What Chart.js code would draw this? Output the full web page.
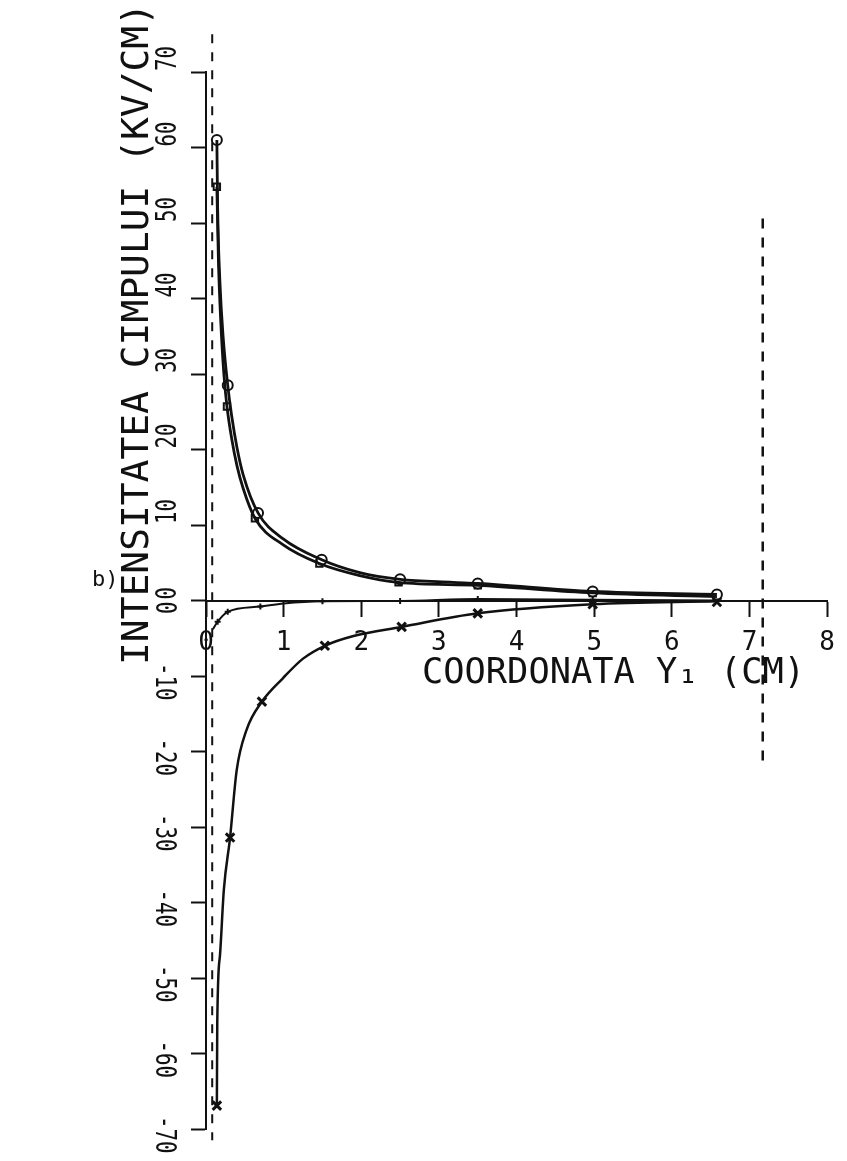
<!DOCTYPE html>
<html>
<head>
<meta charset="utf-8">
<script src="https://cdn.jsdelivr.net/npm/chart.js@4.4.1/dist/chart.umd.min.js"></script>
<style>
  html, body { margin: 0; padding: 0; background: #fff; }
  #wrap { width: 847px; height: 1161px; }
</style>
</head>
<body>
<div id="wrap"><canvas id="field"></canvas></div>
<script>
// ticks
const xTicks = [0, 1, 2, 3, 4, 5, 6, 7, 8];
const yTicks = [-70, -60, -50, -40, -30, -20, -10, 0, 10, 20, 30, 40, 50, 60, 70];

// upper curve (open circles): traced line, then the marked points
const circLineX = [0.14, 0.15, 0.18, 0.22, 0.28, 0.33, 0.40, 0.48, 0.67, 0.99, 1.49, 1.98, 2.5, 3.18, 3.5, 4.98, 6.58];
const circLineY = [61, 52, 42, 35, 28.5, 24.5, 20.2, 16.6, 11.6, 8.2, 5.4, 3.7, 2.8, 2.4, 2.25, 1.2, 0.8];
const circX = [0.14, 0.28, 0.67, 1.49, 2.5, 3.5, 4.98, 6.58];
const circY = [61, 28.5, 11.6, 5.4, 2.8, 2.25, 1.2, 0.8];

// upper curve (open squares)
const sqLineX = [0.14, 0.16, 0.19, 0.23, 0.27, 0.33, 0.40, 0.48, 0.63, 0.99, 1.46, 1.98, 2.48, 3.5, 4.98, 6.58];
const sqLineY = [54.8, 45, 37, 30, 25.7, 21.5, 17.8, 14.8, 10.9, 7.4, 4.9, 3.3, 2.4, 2.0, 1.0, 0.5];
const sqX = [0.14, 0.27, 0.63, 1.46, 2.48, 3.5, 4.98, 6.58];
const sqY = [54.8, 25.7, 10.9, 4.9, 2.4, 2.0, 1.0, 0.5];

// small curve just under zero (plus marks)
const plusLineX = [0.09, 0.15, 0.28, 0.7, 1.0, 1.5, 2.5, 3.5, 4.98, 6.58];
const plusLineY = [-3.8, -2.8, -1.5, -0.8, -0.4, -0.1, -0.05, 0.2, 0.1, 0.0];
const plusX = [0.15, 0.28, 0.7, 1.5, 2.5, 3.5, 4.98];
const plusY = [-2.8, -1.5, -0.8, -0.1, -0.05, 0.2, 0.1];

// lower curve (crosses)
const crossLineX = [0.14, 0.145, 0.18, 0.23, 0.31, 0.395, 0.52, 0.72, 0.99, 1.25, 1.53, 1.9, 2.52, 3.5, 4.98, 6.58];
const crossLineY = [-66.9, -56, -47, -38.3, -31.4, -22.5, -17.2, -13.4, -10.3, -7.7, -6.0, -4.7, -3.5, -1.7, -0.5, -0.1];
const crossX = [0.14, 0.31, 0.72, 1.53, 2.52, 3.5, 4.98, 6.58];
const crossY = [-66.9, -31.4, -13.4, -6.0, -3.5, -1.7, -0.5, -0.2];

// dashed guide lines
const guide1X = [0.08, 0.08];
const guide1Y = [75, -71.5];
const guide2X = [7.17, 7.17];
const guide2Y = [50.6, -21.3];

const ink = '#111';
const mono = '"DejaVu Sans Mono", "Liberation Mono", monospace';

function pts(xs, ys) {
    return xs.map((v, i) => ({ x: v, y: ys[i] }));
}

// draw text with a rotation and an optional squeeze along the text
function put(ctx, text, x, y, rot, size, sx, align) {
    ctx.save();
    ctx.translate(x, y);
    ctx.rotate(rot);
    ctx.scale(sx, 1);
    ctx.font = size + 'px ' + mono;
    ctx.textAlign = align;
    ctx.textBaseline = 'alphabetic';
    ctx.fillText(text, 0, size * 0.729 / 2);
    ctx.restore();
}

function putFit(ctx, text, x, y, rot, size, len) {
    ctx.save();
    ctx.font = size + 'px ' + mono;
    const w = ctx.measureText(text).width;
    ctx.restore();
    put(ctx, text, x, y, rot, size, len / w, 'left');
}

const axisText = {
    id: 'axisText',
    afterDraw(chart) {
        const { ctx, scales: { y } } = chart;
        ctx.save();
        ctx.fillStyle = ink;
        yTicks.forEach(v => {
            const py = y.getPixelForValue(v);
            if (v >= 0) put(ctx, String(v), 166, py - 1, -Math.PI / 2, 28, 0.74, 'left');
            if (v < 0) put(ctx, String(v), 166, py - 13, Math.PI / 2, 28, 0.74, 'left');
            if (v === 0) put(ctx, '0', 166, py + 1, Math.PI / 2, 28, 0.74, 'left');
        });
        putFit(ctx, 'INTENSITATEA CIMPULUI (KV/CM)', 134, 665, -Math.PI / 2, 38, 662);
        putFit(ctx, 'COORDONATA Y\u2081 (CM)', 422, 670, 0, 35, 383);
        put(ctx, 'b)', 92, 578, 0, 22, 1, 'left');
        ctx.restore();
    }
};

function curve(label, xs, ys, width) {
    return {
        label: label,
        data: pts(xs, ys),
        borderColor: ink,
        borderWidth: width,
        cubicInterpolationMode: 'monotone',
        pointRadius: 0,
        fill: false
    };
}

function marks(label, xs, ys, style, r, bw) {
    return {
        label: label,
        data: pts(xs, ys),
        showLine: false,
        pointStyle: style,
        pointRadius: r,
        pointBorderWidth: bw,
        pointBorderColor: ink,
        pointBackgroundColor: '#fff'
    };
}

new Chart(document.getElementById('field').getContext('2d'), {
    type: 'line',
    data: {
        datasets: [
            { label: 'guide1', data: pts(guide1X, guide1Y), borderColor: ink, borderWidth: 2, borderDash: [9, 9], pointRadius: 0, clip: false },
            { label: 'guide2', data: pts(guide2X, guide2Y), borderColor: ink, borderWidth: 2.5, borderDash: [10, 9], pointRadius: 0, clip: false },
            curve('circles line', circLineX, circLineY, 2.8),
            curve('squares line', sqLineX, sqLineY, 2.8),
            curve('plus line', plusLineX, plusLineY, 2),
            curve('cross line', crossLineX, crossLineY, 2.5),
            marks('circles', circX, circY, 'circle', 5, 2),
            marks('squares', sqX, sqY, 'rect', 4.5, 2),
            marks('plus', plusX, plusY, 'cross', 3, 2),
            marks('cross', crossX, crossY, 'crossRot', 6, 3)
        ]
    },
    options: {
        responsive: true,
        maintainAspectRatio: false,
        animation: false,
        layout: { padding: { left: 206, right: 19, top: 72, bottom: 32 } },
        plugins: {
            legend: { display: false },
            tooltip: { enabled: false }
        },
        scales: {
            x: {
                type: 'linear',
                position: { y: 0 },
                min: 0,
                max: 8,
                afterBuildTicks: s => { s.ticks = xTicks.map(v => ({ value: v })); },
                grid: { drawOnChartArea: false, tickLength: 15, tickWidth: 2, color: ink },
                border: { color: ink, width: 2 },
                ticks: { color: ink, font: { family: mono, size: 26 }, padding: 12, maxRotation: 0 },
                title: { display: false }
            },
            y: {
                type: 'linear',
                position: 'left',
                min: -70,
                max: 70,
                afterBuildTicks: s => { s.ticks = yTicks.map(v => ({ value: v })); },
                afterFit: s => { s.width = 0; },
                grid: { drawOnChartArea: false, tickLength: 15, tickWidth: 2, color: ink },
                border: { color: ink, width: 2 },
                ticks: { display: false }
            }
        }
    },
    plugins: [axisText]
});
</script>
</body>
</html>
